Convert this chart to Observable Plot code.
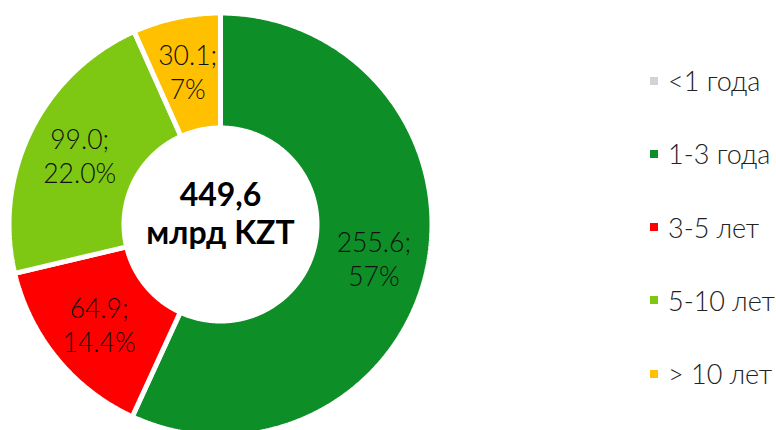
<!DOCTYPE html>
<html><head><meta charset="utf-8">
<script src="https://cdn.jsdelivr.net/npm/d3@7"></script>
<script src="https://cdn.jsdelivr.net/npm/@observablehq/plot@0.6"></script>
<style>
html,body{margin:0;padding:0;background:#fff;}
#wrap{position:relative;width:776px;height:430px;overflow:hidden;font-family:Lato,sans-serif;}
#chart{position:absolute;left:0;top:0;}
#legend{position:absolute;left:650px;top:44px;}
.lg-swatches{font-family:Lato,sans-serif;font-weight:300;font-size:27px;color:#222;margin:0;}
.lg-swatches-columns .lg-swatch{height:73.25px;padding:0;}
.lg-swatch > svg{margin-right:10px;}
</style></head><body><div id="wrap"><div id="chart"></div><div id="legend"></div></div>
<script>
const categories = ["<1 года", "1-3 года", "3-5 лет", "5-10 лет", "> 10 лет"];
const values = [0, 255.6, 64.9, 99.0, 30.1];
const valueLabels = ["", "255.6;", "64.9;", "99.0;", "30.1;"];
const shareLabels = ["", "57%", "14.4%", "22.0%", "7%"];
const colors = ["#d3d3d3", "#0e8e27", "#ff0000", "#7ec813", "#ffc000"];
const unitLabel = "млрд KZT";

const W = 440, H = 430;
const R_OUT = 211.5, R_IN = 96.5, R_LABEL = 157;

const rows = categories.map((c, i) => ({category: c, value: values[i], vlabel: valueLabels[i], slabel: shareLabels[i]}));
const arcs = d3.pie().sort(null).value(d => d.value)(rows).filter(a => a.value > 0);

const step = Math.PI / 360;
const pts = [];
for (const a of arcs) {
  const n = Math.max(2, Math.ceil((a.endAngle - a.startAngle) / step));
  const ring = [];
  for (let k = 0; k <= n; k++) {
    const t = a.startAngle + (a.endAngle - a.startAngle) * k / n;
    ring.push({r: R_OUT, t});
  }
  for (let k = n; k >= 0; k--) {
    const t = a.startAngle + (a.endAngle - a.startAngle) * k / n;
    ring.push({r: R_IN, t});
  }
  ring.push(ring[0]);
  for (const p of ring) pts.push({category: a.data.category, x: p.r * Math.sin(p.t), y: p.r * Math.cos(p.t)});
}

const labels = arcs.map(a => {
  const t = (a.startAngle + a.endAngle) / 2;
  return {x: R_LABEL * Math.sin(t), y: R_LABEL * Math.cos(t), text: a.data.vlabel + "\n" + a.data.slabel};
});

const total = d3.sum(values);
const totalText = d3.format(".1f")(total).replace(".", ",") + "\n" + unitLabel;

const colorScale = {domain: categories, range: colors};

const chart = Plot.plot({
  width: W, height: H,
  margin: 0,
  x: {domain: [-220, 220], axis: null},
  y: {domain: [-206, 224], axis: null},
  color: colorScale,
  style: {background: "transparent"},
  marks: [
    Plot.line(pts, {x: "x", y: "y", z: "category", fill: "category", stroke: "white", strokeWidth: 5, strokeLinejoin: "miter", curve: "linear"}),
    Plot.text(labels, {x: "x", y: "y", text: "text", fill: "#111", fontSize: 26.5, fontWeight: 300, fontFamily: "Lato", lineHeight: 1.3}),
    Plot.text([totalText], {frameAnchor: "middle", text: d => d, fill: "#000", fontSize: 32, fontWeight: "bold", fontFamily: "Lato", lineHeight: 1.2, dy: -3})
  ]
});
document.getElementById("chart").appendChild(chart);

const legend = Plot.legend({color: colorScale, legend: "swatches", columns: 1, swatchSize: 8, className: "lg"});
document.getElementById("legend").appendChild(legend);
</script>
</body></html>
